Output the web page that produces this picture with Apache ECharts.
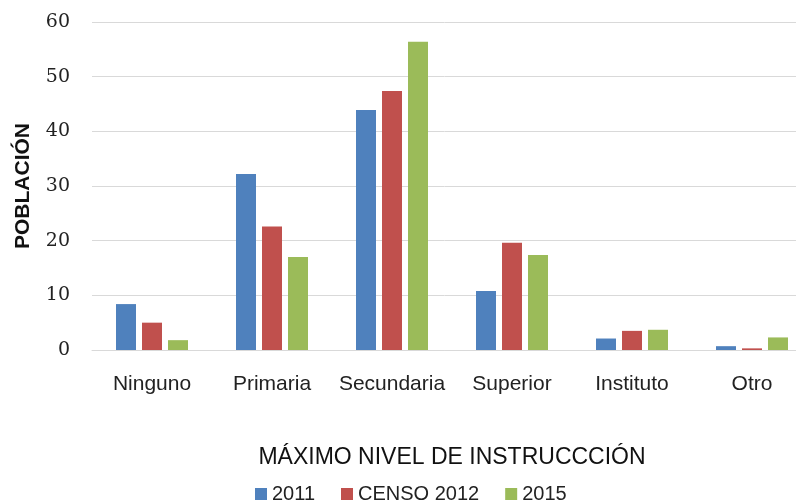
<!DOCTYPE html>
<html>
<head>
<meta charset="utf-8">
<script src="https://cdn.jsdelivr.net/npm/echarts@6/dist/echarts.min.js"></script>
<style>
  html,body{margin:0;padding:0;background:#fff;}
  #chart{width:796px;height:502px;}
</style>
</head>
<body>
<div id="chart"></div>
<script>
// categorías del eje x
const categorias = ['Ninguno','Primaria','Secundaria','Superior','Instituto','Otro']
// valores por serie
const serie2011 = [8.4, 32.2, 43.9, 10.8, 2.1, 0.7]
const serieCenso2012 = [5.0, 22.6, 47.4, 19.6, 3.5, 0.3]
const serie2015 = [1.8, 17.0, 56.4, 17.4, 3.7, 2.3]
const nombresSeries = ['2011','CENSO 2012','2015']
const colores = ['#4F81BD','#C0504D','#9BBB59']

const sans = '"Liberation Sans",sans-serif'
const chart = echarts.init(document.getElementById('chart'))

const datos = [serie2011, serieCenso2012, serie2015]
const series = datos.map((d,i)=>({
  name:nombresSeries[i],
  type:'bar',
  data:d,
  barWidth:20,
  barGap:'30%',
  itemStyle:{color:colores[i]}
}))

chart.setOption({
  animation:false,
  color:colores,
  grid:{left:92,top:22,width:720,height:328,outerBoundsMode:'none',containLabel:false},
  legend:{
    data:nombresSeries,
    left:250,
    top:479,
    icon:'rect',
    itemWidth:12,
    itemHeight:12,
    itemGap:26,
    textStyle:{fontFamily:sans,fontSize:20,color:'#222'}
  },
  xAxis:{
    type:'category',
    data:categorias,
    name:'MÁXIMO NIVEL DE INSTRUCCCIÓN',
    nameLocation:'middle',
    nameGap:96,
    nameTextStyle:{fontFamily:sans,fontSize:23,color:'#111'},
    axisLine:{lineStyle:{color:'#d9d9d9'}},
    axisTick:{show:false},
    axisLabel:{fontFamily:sans,fontSize:21,color:'#222',margin:24,interval:0}
  },
  yAxis:{
    type:'value',
    min:0,
    max:60,
    interval:10,
    name:'POBLACIÓN',
    nameLocation:'middle',
    nameGap:58,
    nameTextStyle:{fontFamily:sans,fontSize:21,fontWeight:'bold',color:'#111'},
    axisLine:{show:false},
    axisTick:{show:false},
    splitLine:{lineStyle:{color:'#d9d9d9'}},
    axisLabel:{fontFamily:'"DejaVu Serif",serif',fontSize:19,color:'#222',margin:22}
  },
  series:series
})
</script>
</body>
</html>
